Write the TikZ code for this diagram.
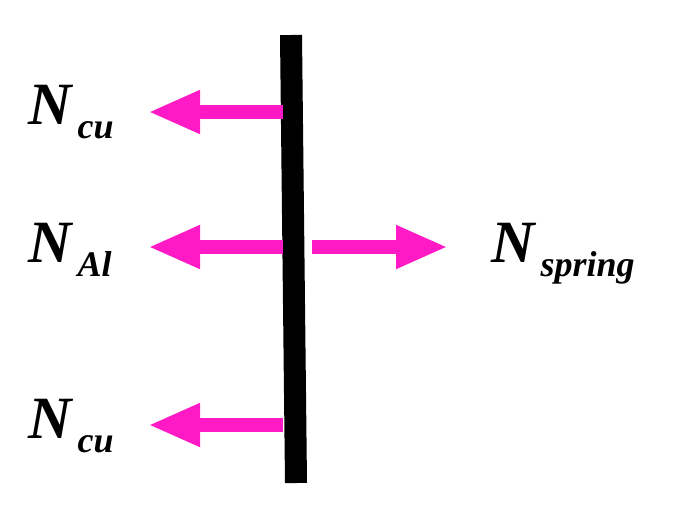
\documentclass[tikz,border=0pt]{standalone}
\usepackage{fontspec}
\setmainfont{Liberation Serif}
\usetikzlibrary{arrows.meta}
\definecolor{mag}{HTML}{FF1AC6}
\tikzset{force/.style={draw=mag,line width=14pt,-{Triangle[length=52pt,width=40pt]}},
 lab/.style={font=\bfseries\itshape\fontsize{60}{60}\selectfont,anchor=base west,inner sep=0}}
\newcommand{\subs}[1]{\hspace{6pt}\raisebox{-14pt}{\fontsize{36}{36}\selectfont #1}}
\begin{document}
\begin{tikzpicture}[x=1pt,y=-1pt]
\useasboundingbox (0,0) rectangle (687,528);
\coordinate (bt) at (291,35);
\coordinate (bb) at (296,483);
\draw[line width=22pt] (bt) -- (bb);
\coordinate (a1) at (283,112); \coordinate (t1) at (148,112);
\coordinate (a2) at (283,247); \coordinate (t2) at (148,247);
\coordinate (a3) at (312,247); \coordinate (t3) at (448,247);
\coordinate (a4) at (283,425); \coordinate (t4) at (148,425);
\draw[force] (a1) -- (t1);
\draw[force] (a2) -- (t2);
\draw[force] (a3) -- (t3);
\draw[force] (a4) -- (t4);
\node[lab] (l1) at (28,124) {N\subs{cu}};
\node[lab] (l2) at (28,262) {N\subs{Al}};
\node[lab] (l3) at (491,262) {N\subs{spring}};
\node[lab] (l4) at (28,438) {N\subs{cu}};
\end{tikzpicture}
\end{document}
